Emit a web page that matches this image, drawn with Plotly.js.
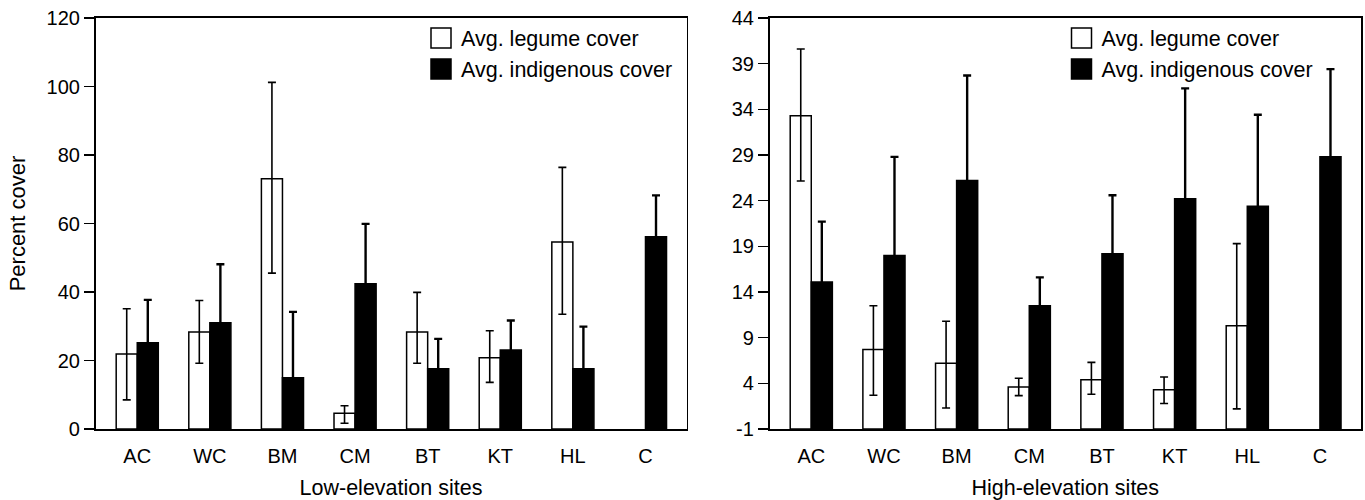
<!DOCTYPE html>
<html>
<head>
<meta charset="utf-8">
<script src="https://cdn.plot.ly/plotly-3.0.1.min.js"></script>
<style>
  html, body { margin: 0; padding: 0; background: #fff; }
  #chart { width: 1365px; height: 500px; }
</style>
</head>
<body>
<div id="chart"></div>
<script>
// ---- data ----
var categories = ['AC', 'WC', 'BM', 'CM', 'BT', 'KT', 'HL', 'C'];

// Low-elevation sites
var lowLegume          = [21.9, 28.3, 73.1, 4.6, 28.3, 20.8, 54.6, null];
var lowLegumeErrPlus   = [13.2, 9.2, 28.1, 2.2, 11.6, 7.9, 21.8, null];
var lowLegumeErrMinus  = [13.4, 9.1, 27.6, 2.9, 9.1, 7.2, 21.1, null];
var lowIndigenous      = [25.2, 31.0, 15.0, 42.4, 17.6, 23.1, 17.6, 56.1];
var lowIndigenousErr   = [12.5, 17.1, 19.2, 17.5, 8.7, 8.6, 12.3, 12.1];

// High-elevation sites
var highLegume         = [33.3, 7.7, 6.2, 3.6, 4.4, 3.3, 10.3, null];
var highLegumeErrPlus  = [7.3, 4.8, 4.6, 0.95, 1.9, 1.4, 9.0, null];
var highLegumeErrMinus = [7.15, 5.0, 4.9, 0.95, 1.6, 1.5, 9.1, null];
var highIndigenous     = [15.1, 18.0, 26.2, 12.5, 18.2, 24.2, 23.4, 28.8];
var highIndigenousErr  = [6.6, 10.8, 11.5, 3.1, 6.4, 12.1, 10.0, 9.6];

// Tick labels of the right panel's value axis (as printed, with a plain hyphen)
var highTickValues = [-1, 4, 9, 14, 19, 24, 29, 34, 39, 44];
var highTickLabels = ['-1', '4', '9', '14', '19', '24', '29', '34', '39', '44'];

var highAxisBottom = -1;   // bars of the right panel rise from the axis floor

var seriesNames = ['Avg. legume cover', 'Avg. indigenous cover'];
var xTitles = ['Low-elevation sites', 'High-elevation sites'];
var yTitle = 'Percent cover';

// ---- traces ----
var FONT = '"Liberation Sans", Arial, Helvetica, sans-serif';
function fromFloor(arr, floor) {
  return arr.map(function (v) { return v === null ? null : v - floor; });
}

var traces = [
  {
    type: 'bar', name: seriesNames[0], x: categories, y: lowLegume,
    xaxis: 'x', yaxis: 'y', legend: 'legend',
    marker: { color: '#ffffff', line: { color: '#000', width: 1.5 } },
    error_y: { type: 'data', symmetric: false, array: lowLegumeErrPlus, arrayminus: lowLegumeErrMinus,
               color: '#000', thickness: 1.6, width: 4 },
    cliponaxis: false, hoverinfo: 'skip'
  },
  {
    type: 'bar', name: seriesNames[1], x: categories, y: lowIndigenous,
    xaxis: 'x', yaxis: 'y', legend: 'legend',
    marker: { color: '#000000', line: { color: '#000', width: 1.5 } },
    error_y: { type: 'data', array: lowIndigenousErr, color: '#000', thickness: 2.4, width: 4 },
    cliponaxis: false, hoverinfo: 'skip'
  },
  {
    type: 'bar', name: seriesNames[0], x: categories, y: fromFloor(highLegume, highAxisBottom),
    base: highAxisBottom,
    xaxis: 'x2', yaxis: 'y2', legend: 'legend2',
    marker: { color: '#ffffff', line: { color: '#000', width: 1.5 } },
    error_y: { type: 'data', symmetric: false, array: highLegumeErrPlus, arrayminus: highLegumeErrMinus,
               color: '#000', thickness: 1.6, width: 4 },
    cliponaxis: false, hoverinfo: 'skip'
  },
  {
    type: 'bar', name: seriesNames[1], x: categories, y: fromFloor(highIndigenous, highAxisBottom),
    base: highAxisBottom,
    xaxis: 'x2', yaxis: 'y2', legend: 'legend2',
    marker: { color: '#000000', line: { color: '#000', width: 1.5 } },
    error_y: { type: 'data', array: highIndigenousErr, color: '#000', thickness: 2.4, width: 4 },
    cliponaxis: false, hoverinfo: 'skip'
  }
];

var W = 1365;
function xAxis(domain, title) {
  return {
    domain: domain, type: 'category', range: [-0.575, 7.565],
    showline: true, linecolor: '#000', linewidth: 1.6, mirror: true,
    ticks: '', showgrid: false, zeroline: false,
    ticklabelstandoff: 8,
    tickfont: { family: FONT, size: 20, color: '#000' },
    title: { text: title, font: { family: FONT, size: 21.5, color: '#000' }, standoff: 22 },
    fixedrange: true
  };
}
function yAxis(anchor, range, dtick, tick0, title) {
  var a = {
    anchor: anchor, domain: [0, 1], range: range, tick0: tick0, dtick: dtick,
    showline: true, linecolor: '#000', linewidth: 1.6, mirror: true,
    ticks: 'outside', ticklen: 10, tickwidth: 1.4, tickcolor: '#000',
    showgrid: false, zeroline: false,
    tickfont: { family: FONT, size: 20, color: '#000' },
    fixedrange: true
  };
  if (title) a.title = { text: title, font: { family: FONT, size: 22, color: '#000' }, standoff: 15 };
  return a;
}

var legendBase = {
  yanchor: 'top', xanchor: 'left', y: 1.001,
  bgcolor: 'rgba(0,0,0,0)', borderwidth: 0,
  font: { family: FONT, size: 21.5, color: '#000' },
  itemclick: false, itemdoubleclick: false
};

var yaxis2 = yAxis('x2', [-1, 44], 5, -1, null);
yaxis2.tickmode = 'array';
yaxis2.tickvals = highTickValues;
yaxis2.ticktext = highTickLabels;

var layout = {
  width: W, height: 500,
  margin: { l: 0, r: 0, t: 18, b: 71 },
  paper_bgcolor: '#fff', plot_bgcolor: '#fff',
  barmode: 'group', bargap: 0.42, bargroupgap: 0,
  font: { family: FONT, color: '#000' },
  showlegend: true,
  xaxis: xAxis([95.5 / W, 686.5 / W], xTitles[0]),
  yaxis: yAxis('x', [0, 120], 20, 0, yTitle),
  xaxis2: xAxis([769.5 / W, 1361 / W], xTitles[1]),
  yaxis2: yaxis2,
  legend: Object.assign({}, legendBase, { x: 421 / W }),
  legend2: Object.assign({}, legendBase, { x: 1061.5 / W })
};

function enlargeLegendSwatches() {
  var gd = document.getElementById('chart');
  gd.querySelectorAll('g.legendpoints path').forEach(function (p) {
    p.setAttribute('d', 'M10,10H-10V-10H10Z');
  });
}

Plotly.newPlot('chart', traces, layout, { displayModeBar: false, staticPlot: true })
  .then(function () { enlargeLegendSwatches(); setTimeout(enlargeLegendSwatches, 50); });
</script>
</body>
</html>
